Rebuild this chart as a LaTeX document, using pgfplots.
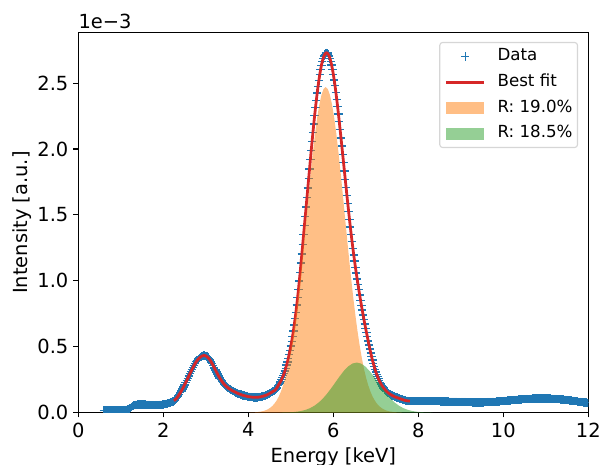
\documentclass[border=0pt]{standalone}
\usepackage{pgfplots}
\pgfplotsset{compat=1.18}
\usepackage{pgfplotstable}
\usepackage{fontspec}
\setmainfont{DejaVu Sans}
\definecolor{tabblue}{HTML}{1F77B4}
\definecolor{tabred}{HTML}{D62728}
\definecolor{taborange}{HTML}{FF7F0E}
\definecolor{tabgreen}{HTML}{2CA02C}
\definecolor{legedge}{RGB}{214,214,214}

\pgfplotsset{
  dataleg/.style={legend image code/.code={\draw[mark repeat=2, mark phase=2, ##1] plot coordinates {(0pt,0pt) (13.7pt,0pt) (27.4pt,0pt)};}},
  lineleg/.style={legend image code/.code={\draw[##1] (0pt,0pt) -- (27.4pt,0pt);}},
  patchleg/.style={legend image code/.code={\fill[##1, sharp corners] (0pt,-4.3pt) rectangle (27.4pt,4.3pt);}},
}

\pgfplotstableread{
x y
0.600 0.018
0.625 0.018
0.650 0.018
0.675 0.018
0.700 0.018
0.725 0.018
0.750 0.018
0.775 0.018
0.800 0.018
0.825 0.018
0.850 0.018
0.875 0.018
0.900 0.018
0.925 0.018
0.950 0.018
0.975 0.018
1.000 0.018
1.025 0.018
1.050 0.019
1.075 0.019
1.100 0.020
1.125 0.022
1.150 0.024
1.175 0.028
1.200 0.032
1.225 0.037
1.250 0.043
1.275 0.048
1.300 0.053
1.325 0.056
1.350 0.059
1.375 0.060
1.400 0.061
1.425 0.062
1.450 0.062
1.475 0.062
1.500 0.062
1.525 0.062
1.550 0.061
1.575 0.061
1.600 0.060
1.625 0.060
1.650 0.059
1.675 0.059
1.700 0.058
1.725 0.058
1.750 0.058
1.775 0.058
1.800 0.058
1.825 0.058
1.850 0.058
1.875 0.058
1.900 0.059
1.925 0.059
1.950 0.060
1.975 0.061
2.000 0.062
2.025 0.063
2.050 0.065
2.075 0.067
2.100 0.069
2.125 0.071
2.150 0.074
2.175 0.077
2.200 0.080
2.225 0.085
2.250 0.090
2.275 0.097
2.300 0.105
2.325 0.115
2.350 0.126
2.375 0.138
2.400 0.151
2.425 0.165
2.450 0.180
2.475 0.195
2.500 0.211
2.525 0.227
2.550 0.244
2.575 0.261
2.600 0.278
2.625 0.295
2.650 0.312
2.675 0.328
2.700 0.344
2.725 0.359
2.750 0.373
2.775 0.386
2.800 0.397
2.825 0.407
2.850 0.415
2.875 0.422
2.900 0.427
2.925 0.431
2.950 0.433
2.975 0.433
3.000 0.430
3.025 0.425
3.050 0.418
3.075 0.409
3.100 0.398
3.125 0.385
3.150 0.371
3.175 0.356
3.200 0.340
3.225 0.324
3.250 0.308
3.275 0.293
3.300 0.278
3.325 0.264
3.350 0.251
3.375 0.239
3.400 0.228
3.425 0.218
3.450 0.209
3.475 0.201
3.500 0.194
3.525 0.187
3.550 0.181
3.575 0.176
3.600 0.171
3.625 0.166
3.650 0.162
3.675 0.158
3.700 0.154
3.725 0.150
3.750 0.146
3.775 0.143
3.800 0.140
3.825 0.137
3.850 0.134
3.875 0.131
3.900 0.129
3.925 0.127
3.950 0.125
3.975 0.123
4.000 0.121
4.025 0.120
4.050 0.119
4.075 0.118
4.100 0.117
4.125 0.116
4.150 0.116
4.175 0.116
4.200 0.116
4.225 0.117
4.250 0.118
4.275 0.119
4.300 0.121
4.325 0.123
4.350 0.125
4.375 0.128
4.400 0.131
4.425 0.133
4.450 0.137
4.475 0.141
4.500 0.145
4.525 0.150
4.550 0.155
4.575 0.160
4.60 0.165
4.62 0.168
4.64 0.175
4.66 0.184
4.68 0.193
4.70 0.204
4.72 0.215
4.74 0.226
4.76 0.237
4.78 0.250
4.80 0.265
4.82 0.280
4.84 0.295
4.86 0.315
4.88 0.337
4.90 0.360
4.92 0.385
4.94 0.412
4.96 0.442
4.98 0.472
5.00 0.505
5.02 0.540
5.04 0.578
5.06 0.620
5.08 0.665
5.10 0.712
5.12 0.762
5.14 0.817
5.16 0.875
5.18 0.935
5.20 1.000
5.22 1.065
5.24 1.135
5.26 1.205
5.28 1.275
5.30 1.350
5.32 1.420
5.34 1.490
5.36 1.561
5.38 1.633
5.40 1.705
5.42 1.777
5.44 1.848
5.46 1.919
5.48 1.989
5.50 2.058
5.52 2.125
5.54 2.190
5.56 2.253
5.58 2.313
5.60 2.370
5.62 2.424
5.64 2.475
5.66 2.521
5.68 2.564
5.70 2.602
5.72 2.635
5.74 2.664
5.76 2.687
5.78 2.706
5.80 2.719
5.82 2.727
5.84 2.730
5.86 2.727
5.88 2.719
5.90 2.706
5.92 2.688
5.94 2.665
5.96 2.637
5.98 2.604
6.00 2.567
6.02 2.525
6.04 2.480
6.06 2.430
6.08 2.378
6.10 2.323
6.12 2.266
6.14 2.207
6.16 2.146
6.18 2.085
6.20 2.023
6.22 1.960
6.24 1.897
6.26 1.834
6.28 1.771
6.30 1.709
6.32 1.647
6.34 1.586
6.36 1.526
6.38 1.467
6.40 1.409
6.42 1.353
6.44 1.299
6.46 1.247
6.48 1.197
6.50 1.149
6.52 1.103
6.54 1.058
6.56 1.015
6.58 0.973
6.60 0.932
6.62 0.892
6.64 0.853
6.66 0.815
6.68 0.778
6.70 0.742
6.72 0.707
6.74 0.673
6.76 0.640
6.78 0.608
6.80 0.577
6.82 0.544
6.84 0.512
6.86 0.482
6.88 0.453
6.90 0.425
6.92 0.399
6.94 0.374
6.96 0.351
6.98 0.329
7.00 0.309
7.02 0.291
7.04 0.274
7.06 0.258
7.08 0.243
7.10 0.230
7.12 0.218
7.14 0.207
7.16 0.197
7.18 0.188
7.20 0.180
7.22 0.172
7.24 0.165
7.26 0.159
7.28 0.153
7.30 0.148
7.32 0.143
7.34 0.139
7.36 0.135
7.38 0.131
7.40 0.128
7.425 0.124
7.450 0.120
7.475 0.117
7.500 0.114
7.525 0.111
7.550 0.108
7.575 0.105
7.600 0.102
7.625 0.099
7.650 0.097
7.675 0.094
7.700 0.092
7.725 0.090
7.750 0.089
7.775 0.088
7.800 0.087
7.825 0.086
7.850 0.086
7.875 0.086
7.900 0.086
7.925 0.086
7.950 0.087
7.975 0.087
8.000 0.087
8.025 0.087
8.050 0.087
8.075 0.087
8.100 0.087
8.125 0.087
8.150 0.087
8.175 0.087
8.200 0.087
8.225 0.087
8.250 0.087
8.275 0.087
8.300 0.087
8.325 0.087
8.350 0.087
8.375 0.087
8.400 0.086
8.425 0.086
8.450 0.086
8.475 0.086
8.500 0.086
8.525 0.085
8.550 0.085
8.575 0.085
8.600 0.085
8.625 0.084
8.650 0.084
8.675 0.084
8.700 0.084
8.725 0.083
8.750 0.083
8.775 0.083
8.800 0.083
8.825 0.082
8.850 0.082
8.875 0.082
8.900 0.082
8.925 0.081
8.950 0.081
8.975 0.081
9.000 0.081
9.025 0.080
9.050 0.080
9.075 0.080
9.100 0.080
9.125 0.079
9.150 0.079
9.175 0.079
9.200 0.079
9.225 0.079
9.250 0.079
9.275 0.078
9.300 0.078
9.325 0.078
9.350 0.078
9.375 0.078
9.400 0.078
9.425 0.078
9.450 0.078
9.475 0.078
9.500 0.078
9.525 0.078
9.550 0.079
9.575 0.079
9.600 0.079
9.625 0.080
9.650 0.080
9.675 0.080
9.700 0.081
9.725 0.081
9.750 0.082
9.775 0.082
9.800 0.083
9.825 0.083
9.850 0.084
9.875 0.084
9.900 0.085
9.925 0.086
9.950 0.087
9.975 0.087
10.000 0.088
10.025 0.089
10.050 0.090
10.075 0.090
10.100 0.091
10.125 0.092
10.150 0.093
10.175 0.093
10.200 0.094
10.225 0.095
10.250 0.096
10.275 0.096
10.300 0.097
10.325 0.098
10.350 0.099
10.375 0.099
10.400 0.100
10.425 0.100
10.450 0.101
10.475 0.101
10.500 0.102
10.525 0.102
10.550 0.103
10.575 0.103
10.600 0.104
10.625 0.104
10.650 0.105
10.675 0.105
10.700 0.106
10.725 0.106
10.750 0.106
10.775 0.106
10.800 0.107
10.825 0.107
10.850 0.107
10.875 0.107
10.900 0.107
10.925 0.107
10.950 0.107
10.975 0.107
11.000 0.107
11.025 0.106
11.050 0.106
11.075 0.106
11.100 0.106
11.125 0.105
11.150 0.105
11.175 0.104
11.200 0.104
11.225 0.103
11.250 0.103
11.275 0.102
11.300 0.102
11.325 0.101
11.350 0.100
11.375 0.099
11.400 0.099
11.425 0.098
11.450 0.097
11.475 0.096
11.500 0.095
11.525 0.094
11.550 0.093
11.575 0.092
11.600 0.091
11.625 0.090
11.650 0.089
11.675 0.088
11.700 0.087
11.725 0.086
11.750 0.085
11.775 0.083
11.800 0.082
11.825 0.081
11.850 0.080
11.875 0.079
11.900 0.078
11.925 0.077
11.950 0.076
11.975 0.075
12.000 0.074
12.025 0.073
12.050 0.072
12.075 0.071
12.100 0.070
}\spectrum

\pgfplotstableread{
x y
4.02 0.0008
4.12 0.0020
4.22 0.0044
4.32 0.0096
4.37 0.0137
4.42 0.0195
4.47 0.0274
4.52 0.0381
4.57 0.0521
4.62 0.0706
4.67 0.0943
4.72 0.1245
4.77 0.162
4.82 0.209
4.87 0.266
4.92 0.334
4.97 0.415
5.02 0.509
5.07 0.616
5.12 0.737
5.17 0.870
5.22 1.015
5.27 1.170
5.32 1.332
5.37 1.498
5.42 1.664
5.47 1.825
5.52 1.978
5.57 2.117
5.62 2.238
5.67 2.336
5.72 2.410
5.77 2.455
5.82 2.470
5.87 2.455
5.92 2.410
5.97 2.336
6.02 2.238
6.07 2.117
6.12 1.978
6.17 1.825
6.22 1.664
6.27 1.498
6.32 1.332
6.37 1.170
6.42 1.015
6.47 0.870
6.52 0.737
6.57 0.616
6.62 0.509
6.67 0.415
6.72 0.334
6.77 0.266
6.82 0.209
6.87 0.162
6.92 0.1245
6.97 0.0943
7.02 0.0706
7.07 0.0521
7.12 0.0381
7.17 0.0274
7.22 0.0195
7.27 0.0137
7.32 0.0096
7.42 0.0044
7.52 0.0020
7.62 0.0008
}\peakA

\pgfplotstableread{
x y
4.75 0.0006
4.95 0.0023
5.05 0.0042
5.15 0.0075
5.25 0.0129
5.35 0.0213
5.45 0.0338
5.55 0.0514
5.65 0.0752
5.75 0.1056
5.85 0.1426
5.95 0.1850
6.05 0.2305
6.15 0.2759
6.25 0.3174
6.35 0.3508
6.45 0.3725
6.55 0.3800
6.65 0.3725
6.75 0.3508
6.85 0.3174
6.95 0.2759
7.05 0.2305
7.15 0.1850
7.25 0.1426
7.35 0.1056
7.45 0.0752
7.55 0.0514
7.65 0.0338
7.75 0.0213
7.85 0.0129
7.95 0.0075
8.05 0.0042
8.15 0.0023
8.35 0.0006
}\peakB

\begin{document}
\begin{tikzpicture}
\begin{axis}[
  scale only axis,
  width=367.2pt, height=273.6pt,
  xmin=0, xmax=12, ymin=0, ymax=2.883,
  xtick={0,2,4,6,8,10,12},
  ytick={0,0.5,1,1.5,2,2.5},
  xtick pos=lower, ytick pos=left,
  tick align=outside,
  major tick length=3.5pt,
  every tick/.style={black, line width=0.8pt},
  axis line style={line width=0.8pt},
  scaled y ticks=false,
  /pgf/number format/assume math mode=true,
  yticklabel style={/pgf/number format/.cd, fixed, fixed zerofill, precision=1},
  tick label style={font=\fontsize{14}{16.8}\selectfont, inner sep=3.5pt},
  xlabel={Energy [keV]},
  ylabel={Intensity [a.u.]},
  label style={font=\fontsize{14}{16.8}\selectfont},
  x label style={at={(axis description cs:0.5,-0.1316)}, anchor=base, inner sep=0pt},
  y label style={at={(axis description cs:-0.0997,0.5)}, anchor=base, inner sep=0pt},
  clip marker paths=true,
  legend cell align=left,
  legend style={
    at={(rel axis cs:1,1)}, anchor=north east, xshift=-7.4pt, yshift=-6.7pt,
    draw=legedge, line width=0.8pt, rounded corners=2pt,
    fill=white, fill opacity=0.8, draw opacity=1, text opacity=1,
    font=\fontsize{12}{14.4}\selectfont,
    inner xsep=3.6pt, inner ysep=4.1pt,
    row sep=6.6pt,
    nodes={inner sep=0pt, text height=9.1pt, text depth=2.8pt},
    /tikz/every odd column/.append style={column sep=8.6pt},
  },
]
\addplot[only marks, mark=+, mark size=3pt, line width=1pt, color=tabblue, dataleg]
  table[x=x, y=y] {\spectrum};
\addlegendentry{Data}

\addplot[tabred, line width=2pt, no markers, restrict x to domain=2.25:7.80, lineleg]
  table[x=x, y=y] {\spectrum};
\addlegendentry{Best fit}

\addplot[draw=none, fill=taborange, fill opacity=0.5, patchleg]
  table[x=x, y=y] {\peakA} \closedcycle;
\addlegendentry{R: 19.0\%}

\addplot[draw=none, fill=tabgreen, fill opacity=0.5, patchleg]
  table[x=x, y=y] {\peakB} \closedcycle;
\addlegendentry{R: 18.5\%}
\end{axis}
\node[anchor=base west, inner sep=0pt, font=\fontsize{14}{16.8}\selectfont] at ([yshift=2.7pt]current axis.north west) {1e−3};
\pgfresetboundingbox
\path[use as bounding box] ([shift={(-56.4pt,-37.7pt)}]current axis.south west) rectangle ([shift={(8.4pt,23.5pt)}]current axis.north east);
\end{tikzpicture}
\end{document}
